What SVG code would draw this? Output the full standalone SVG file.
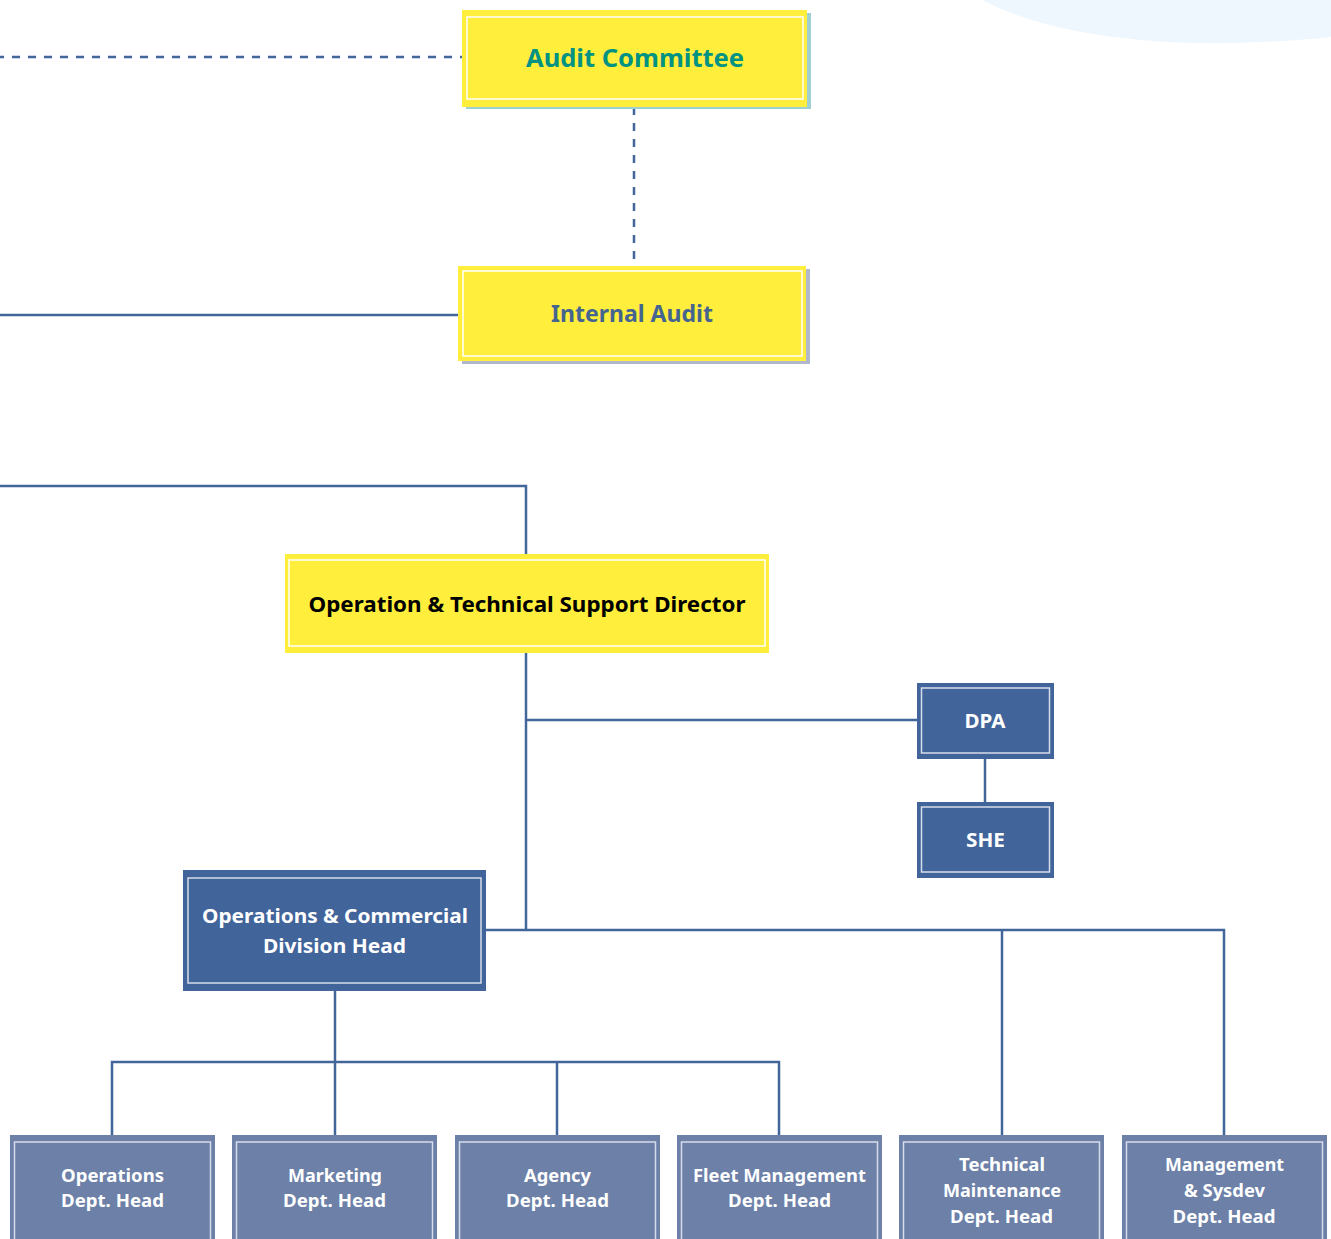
<svg xmlns="http://www.w3.org/2000/svg" width="1331" height="1239" viewBox="0 0 1331 1239">
<style>
.line{stroke:#42659a;stroke-width:2.5;fill:none}
.dash{stroke:#42659a;stroke-width:2.5;fill:none;stroke-dasharray:8 8}
.yel{fill:#ffee3b}
.inW{fill:none;stroke:#ffffff;stroke-width:1.5}
.dark{fill:#41649a}
.light{fill:#6c80a8}
.inB{fill:none;stroke:#d6dcea;stroke-width:1.5}
text{font-family:"Noto Sans","Open Sans","Liberation Sans",sans-serif;font-weight:700;text-anchor:middle}
.w{fill:#ffffff}
.b{font-size:17px}
</style>
<rect width="1331" height="1239" fill="#ffffff"/>
<path d="M983 0 C1040 32 1140 45 1230 43 C1270 42 1305 40 1331 37 L1331 0 Z" fill="#eef7fd"/>
<g id="connectors">
<line class="dash" x1="0" y1="57" x2="462" y2="57" stroke-dashoffset="4"/>
<line class="dash" x1="634" y1="107" x2="634" y2="266"/>
<line class="line" x1="0" y1="315" x2="458" y2="315"/>
<polyline class="line" points="0,486 526,486 526,554"/>
<line class="line" x1="526" y1="653" x2="526" y2="931"/>
<line class="line" x1="526" y1="720" x2="918" y2="720"/>
<line class="line" x1="985" y1="759" x2="985" y2="802"/>
<polyline class="line" points="486,930 1224,930 1224,1135"/>
<line class="line" x1="1002" y1="930" x2="1002" y2="1135"/>
<line class="line" x1="335" y1="991" x2="335" y2="1135"/>
<polyline class="line" points="112,1135 112,1062 779,1062 779,1135"/>
<line class="line" x1="557" y1="1062" x2="557" y2="1135"/>
</g>
<g id="audit-committee">
<rect x="466" y="13" width="345" height="96" fill="#9ecfd2"/>
<rect class="yel" x="462" y="10" width="345" height="97"/>
<rect class="inW" x="467" y="17" width="336" height="82"/>
<text x="635" y="67" font-size="25" fill="#009282" textLength="218" lengthAdjust="spacingAndGlyphs">Audit Committee</text>
</g>
<g id="internal-audit">
<rect x="462" y="269" width="348" height="95" fill="#b1b8cc"/>
<rect class="yel" x="458" y="266" width="348" height="95"/>
<rect class="inW" x="463" y="271" width="339" height="85"/>
<text x="632" y="322" font-size="23" fill="#456590" textLength="162" lengthAdjust="spacingAndGlyphs">Internal Audit</text>
</g>
<g id="director">
<rect class="yel" x="285" y="554" width="484" height="99"/>
<rect class="inW" x="289" y="560" width="476" height="86"/>
<text x="527" y="612" font-size="21" fill="#000000" textLength="437" lengthAdjust="spacingAndGlyphs">Operation &amp; Technical Support Director</text>
</g>
<g id="dpa">
<rect class="dark" x="917" y="683" width="137" height="76"/>
<rect class="inB" x="921.5" y="688" width="128" height="65"/>
<text class="w" x="985" y="728" font-size="19" textLength="41" lengthAdjust="spacingAndGlyphs">DPA</text>
</g>
<g id="she">
<rect class="dark" x="917" y="802" width="137" height="76"/>
<rect class="inB" x="921.5" y="807" width="128" height="65"/>
<text class="w" x="985.5" y="847" font-size="19" textLength="39" lengthAdjust="spacingAndGlyphs">SHE</text>
</g>
<g id="division-head">
<rect class="dark" x="183" y="870" width="303" height="121"/>
<rect class="inB" x="188" y="878" width="293" height="105"/>
<text class="w" x="335" y="923" font-size="20" textLength="266" lengthAdjust="spacingAndGlyphs">Operations &amp; Commercial</text>
<text class="w" x="334.5" y="953" font-size="20" textLength="143" lengthAdjust="spacingAndGlyphs">Division Head</text>
</g>
<g id="operations">
<rect class="light" x="10" y="1135" width="205" height="110"/>
<rect class="inB" x="14.5" y="1142" width="196" height="110"/>
<text class="w b" x="112.5" y="1182" textLength="103" lengthAdjust="spacingAndGlyphs">Operations</text>
<text class="w b" x="112.5" y="1207" textLength="103" lengthAdjust="spacingAndGlyphs">Dept. Head</text>
</g>
<g id="marketing">
<rect class="light" x="232" y="1135" width="205" height="110"/>
<rect class="inB" x="236.5" y="1142" width="196" height="110"/>
<text class="w b" x="335" y="1182" textLength="94" lengthAdjust="spacingAndGlyphs">Marketing</text>
<text class="w b" x="334.5" y="1207" textLength="103" lengthAdjust="spacingAndGlyphs">Dept. Head</text>
</g>
<g id="agency">
<rect class="light" x="455" y="1135" width="205" height="110"/>
<rect class="inB" x="459.5" y="1142" width="196" height="110"/>
<text class="w b" x="557.5" y="1182" textLength="67" lengthAdjust="spacingAndGlyphs">Agency</text>
<text class="w b" x="557.5" y="1207" textLength="103" lengthAdjust="spacingAndGlyphs">Dept. Head</text>
</g>
<g id="fleet">
<rect class="light" x="677" y="1135" width="205" height="110"/>
<rect class="inB" x="681.5" y="1142" width="196" height="110"/>
<text class="w b" x="779.5" y="1182" textLength="173" lengthAdjust="spacingAndGlyphs">Fleet Management</text>
<text class="w b" x="779.5" y="1207" textLength="103" lengthAdjust="spacingAndGlyphs">Dept. Head</text>
</g>
<g id="technical">
<rect class="light" x="899" y="1135" width="205" height="110"/>
<rect class="inB" x="903.5" y="1142" width="196" height="110"/>
<text class="w b" x="1002" y="1171" textLength="86" lengthAdjust="spacingAndGlyphs">Technical</text>
<text class="w b" x="1002" y="1197" textLength="118" lengthAdjust="spacingAndGlyphs">Maintenance</text>
<text class="w b" x="1001.5" y="1223" textLength="103" lengthAdjust="spacingAndGlyphs">Dept. Head</text>
</g>
<g id="management">
<rect class="light" x="1122" y="1135" width="205" height="110"/>
<rect class="inB" x="1126.5" y="1142" width="196" height="110"/>
<text class="w b" x="1224.5" y="1171" textLength="119" lengthAdjust="spacingAndGlyphs">Management</text>
<text class="w b" x="1224.5" y="1197" textLength="81" lengthAdjust="spacingAndGlyphs">&amp; Sysdev</text>
<text class="w b" x="1224" y="1223" textLength="103" lengthAdjust="spacingAndGlyphs">Dept. Head</text>
</g>
</svg>
